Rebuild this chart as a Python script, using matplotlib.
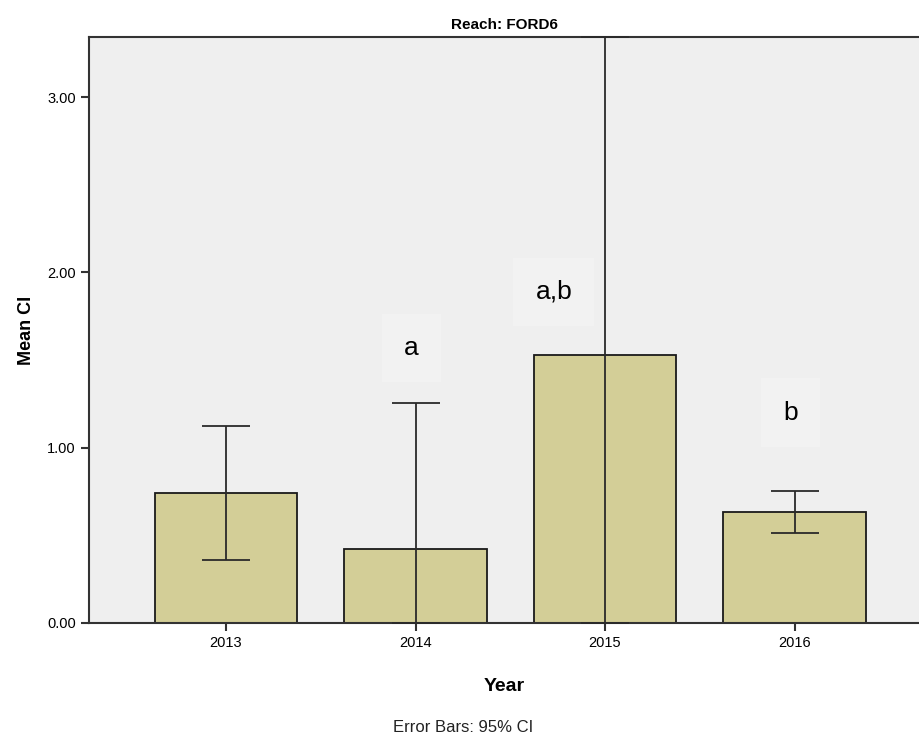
import matplotlib.pyplot as plt

plt.rcParams['font.family'] = ['Liberation Sans', 'DejaVu Sans']

years = ['2013', '2014', '2015', '2016']
mean_ci = [0.740, 0.422, 1.529, 0.635]
ci_low = [0.359, 0.0, 0.0, 0.515]
ci_high = [1.124, 1.253, 3.343, 0.755]
letters = ['', 'a', 'a,b', 'b']
letter_pos = [(0, 0), (-0.02, 1.57), (-0.27, 1.89), (-0.02, 1.20)]

fig = plt.figure(figsize=(9.2, 7.43), dpi=100)
ax = fig.add_axes([89 / 920, 1 - 623 / 743, 831 / 920, (623 - 37) / 743])
ax.set_facecolor('#efefef')

x = list(range(len(years)))
ax.bar(x, mean_ci, width=0.75, color='#d3ce97', edgecolor='#1a1a1a', linewidth=1.3, zorder=2)
err = [[m - lo for m, lo in zip(mean_ci, ci_low)], [hi - m for m, hi in zip(mean_ci, ci_high)]]
eb = ax.errorbar(x, mean_ci, yerr=err, fmt='none', ecolor='#2a2a2a', elinewidth=1.3,
                 capsize=17, capthick=1.3, zorder=3)
for c in eb[1]:
    c.set_clip_on(False)

for i, lab in enumerate(letters):
    if lab:
        dx, y = letter_pos[i]
        ax.text(i + dx, y, lab, fontsize=19, ha='center', va='center', zorder=4,
                bbox=dict(facecolor='#f2f2f2', edgecolor='none', pad=16))

ax.set_xlim(-0.723, 3.662)
ax.set_ylim(0, 3.343)
ax.set_xticks(x)
ax.set_xticklabels(years, fontsize=10.5)
ax.set_yticks([0, 1, 2, 3])
ax.set_yticklabels(['0.00', '1.00', '2.00', '3.00'], fontsize=10.5)
ax.tick_params(axis='both', direction='out', length=6, width=1.5, color='#333333')
for side in ['left', 'bottom', 'top']:
    ax.spines[side].set_linewidth(1.5)
    ax.spines[side].set_color('#333333')
ax.spines['right'].set_visible(False)

ax.set_title('Reach: FORD6', fontsize=11, fontweight='bold', pad=6)
ax.set_xlabel('Year', fontsize=14, fontweight='bold', labelpad=20)
ax.set_ylabel('Mean CI', fontsize=13, fontweight='bold', labelpad=9)

fig.text(463 / 920, 1 - 728 / 743, 'Error Bars: 95% CI', fontsize=12, ha='center', va='center', color='#222222')

fig.savefig('out.png', dpi=100)
